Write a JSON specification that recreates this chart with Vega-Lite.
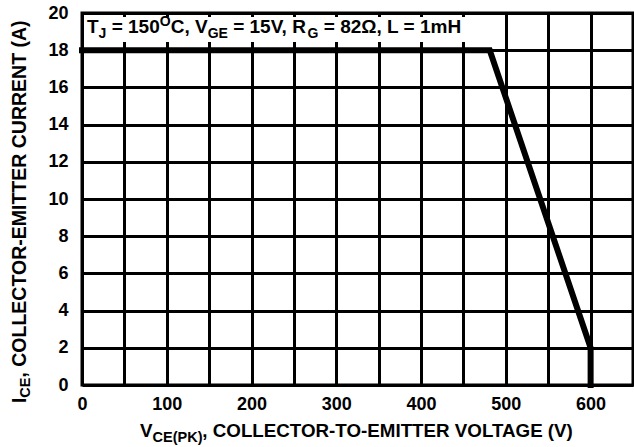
{
  "$schema": "https://vega.github.io/schema/vega-lite/v6.json",
  "width": 551,
  "height": 372,
  "autosize": {"type": "none"},
  "padding": {"left": 82, "top": 13, "right": 1, "bottom": 62},
  "background": "white",
  "datasets": {
    "curve": [
      {"i": 0, "x": 0, "y": 18},
      {"i": 1, "x": 481, "y": 18},
      {"i": 2, "x": 600, "y": 2},
      {"i": 3, "x": 600, "y": 0}
    ],
    "box": [{"x": 2.5, "x2": 480, "y": 18.44, "y2": 19.78}],
    "labels": [
      {"g": "am", "x": 5.9, "y": 18.9, "t": "T"},
      {"g": "as", "x": 19.6, "y": 18.9, "t": "J"},
      {"g": "am", "x": 35.0, "y": 18.9, "t": "= 150"},
      {"g": "ap", "x": 91.8, "y": 18.9, "t": "O"},
      {"g": "am", "x": 104.6, "y": 18.9, "t": "C, V"},
      {"g": "as", "x": 148.3, "y": 18.9, "t": "GE"},
      {"g": "am", "x": 178.3, "y": 18.9, "t": "= 15V, R"},
      {"g": "as", "x": 266.1, "y": 18.9, "t": "G"},
      {"g": "am", "x": 285.2, "y": 18.9, "t": "= 82Ω, L = 1mH"},
      {"g": "xm", "x": 68.4, "y": -2.8, "t": "V"},
      {"g": "xs", "x": 83.2, "y": -2.8, "t": "CE(PK)"},
      {"g": "xm", "x": 142.0, "y": -2.8, "t": ", COLLECTOR-TO-EMITTER VOLTAGE (V)"},
      {"g": "ym", "x": -66.1, "y": -0.97, "t": "I"},
      {"g": "ys", "x": -66.1, "y": -0.68, "t": "CE"},
      {"g": "ym", "x": -66.1, "y": 0.40, "t": ", COLLECTOR-EMITTER CURRENT (A)"}
    ]
  },
  "encoding": {
    "x": {
      "field": "x", "type": "quantitative",
      "scale": {"domain": [0, 650], "nice": false, "zero": false},
      "axis": {
        "values": [0, 50, 100, 150, 200, 250, 300, 350, 400, 450, 500, 550, 600, 650],
        "labelExpr": "datum.value % 100 === 0 ? datum.label : ''",
        "labelFlush": false, "labelOverlap": false, "labelPadding": 10, "title": null
      }
    },
    "y": {
      "field": "y", "type": "quantitative",
      "scale": {"domain": [0, 20], "nice": false, "zero": false},
      "axis": {
        "values": [0, 2, 4, 6, 8, 10, 12, 14, 16, 18, 20],
        "labelPadding": 14, "labelOverlap": false, "title": null
      }
    }
  },
  "layer": [
    {
      "data": {"name": "box"},
      "mark": {"type": "rect", "fill": "white", "stroke": null},
      "encoding": {"x2": {"field": "x2"}, "y2": {"field": "y2"}}
    },
    {
      "data": {"name": "curve"},
      "mark": {"type": "line", "color": "black", "strokeWidth": 6, "strokeCap": "square", "strokeJoin": "miter"},
      "encoding": {"order": {"field": "i", "type": "ordinal"}}
    },
    {
      "data": {"name": "labels"},
      "transform": [{"filter": "datum.g === 'am'"}],
      "mark": {"type": "text", "align": "left", "baseline": "alphabetic", "font": "Liberation Sans", "fontWeight": "bold", "fontSize": 19, "color": "black"},
      "encoding": {"text": {"field": "t"}}
    },
    {
      "data": {"name": "labels"},
      "transform": [{"filter": "datum.g === 'as'"}],
      "mark": {"type": "text", "align": "left", "baseline": "alphabetic", "font": "Liberation Sans", "fontWeight": "bold", "fontSize": 14, "dy": 4.5, "color": "black"},
      "encoding": {"text": {"field": "t"}}
    },
    {
      "data": {"name": "labels"},
      "transform": [{"filter": "datum.g === 'ap'"}],
      "mark": {"type": "text", "align": "left", "baseline": "alphabetic", "font": "Liberation Sans", "fontWeight": "bold", "fontSize": 14, "dy": -7, "color": "black"},
      "encoding": {"text": {"field": "t"}}
    },
    {
      "data": {"name": "labels"},
      "transform": [{"filter": "datum.g === 'xm'"}],
      "mark": {"type": "text", "align": "left", "baseline": "alphabetic", "font": "Liberation Sans", "fontWeight": "bold", "fontSize": 18.75, "color": "black"},
      "encoding": {"text": {"field": "t"}}
    },
    {
      "data": {"name": "labels"},
      "transform": [{"filter": "datum.g === 'xs'"}],
      "mark": {"type": "text", "align": "left", "baseline": "alphabetic", "font": "Liberation Sans", "fontWeight": "bold", "fontSize": 14.5, "dy": 4.5, "color": "black"},
      "encoding": {"text": {"field": "t"}}
    },
    {
      "data": {"name": "labels"},
      "transform": [{"filter": "datum.g === 'ym'"}],
      "mark": {"type": "text", "align": "left", "baseline": "alphabetic", "angle": 270, "font": "Liberation Sans", "fontWeight": "bold", "fontSize": 19.5, "color": "black"},
      "encoding": {"text": {"field": "t"}}
    },
    {
      "data": {"name": "labels"},
      "transform": [{"filter": "datum.g === 'ys'"}],
      "mark": {"type": "text", "align": "left", "baseline": "alphabetic", "angle": 270, "font": "Liberation Sans", "fontWeight": "bold", "fontSize": 14.5, "dy": 4.5, "color": "black"},
      "encoding": {"text": {"field": "t"}}
    }
  ],
  "config": {
    "view": {"stroke": "black", "strokeWidth": 3},
    "axis": {
      "grid": true, "gridColor": "black", "gridWidth": 3, "gridOpacity": 1,
      "ticks": false, "domain": false,
      "labelFont": "Liberation Sans", "labelFontWeight": "bold", "labelFontSize": 18, "labelColor": "black"
    }
  }
}
